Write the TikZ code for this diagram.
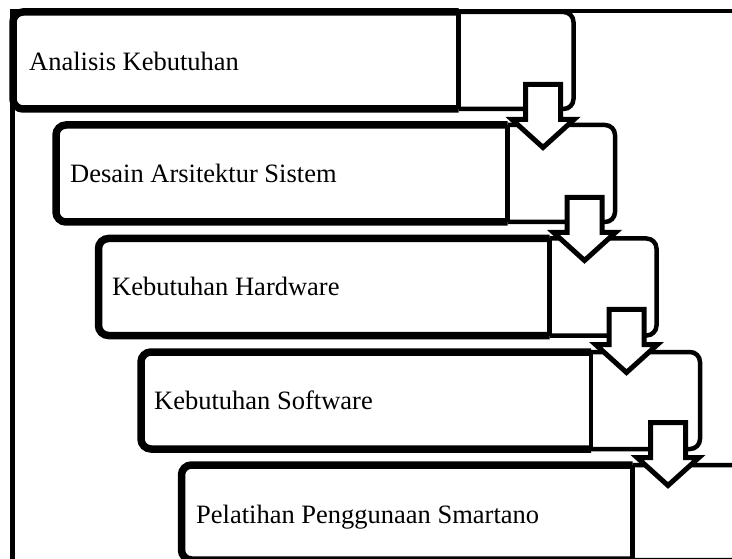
\documentclass[tikz,border=0pt]{standalone}
\usepackage{fontspec}
\setmainfont{Liberation Serif}
\begin{document}
\begin{tikzpicture}[x=1pt, y=-1pt,
  mainbox/.style={line width=7.5pt, fill=white, rounded corners=10pt},
  tabbox/.style={line width=4.5pt, fill=white, rounded corners=10pt},
  sepline/.style={line width=4.5pt},
  frameline/.style={line width=4.5pt},
  downarrow/.style={line width=5pt, fill=white, line join=miter},
  steplabel/.style={anchor=base west, inner sep=0pt, font=\fontsize{26.5}{32}\selectfont}]
\useasboundingbox (0,0) rectangle (732,559);
\clip (0,0) rectangle (732,559);
\draw[frameline] (732,11) -- (12.5,11) -- (12.5,559);
\draw[tabbox] (458.5,12) -- (573.5,12) -- (573.5,109) -- (458.5,109);
\draw[mainbox] (458.5,12) -- (13,12) -- (13,109) -- (458.5,109);
\draw[sepline] (458.5,12) -- (458.5,109);
\node[steplabel] (analisis) at (29,71) {Analisis Kebutuhan};
\draw[tabbox] (507.5,125) -- (615,125) -- (615,222) -- (507.5,222);
\draw[mainbox] (507.5,125) -- (56,125) -- (56,222) -- (507.5,222);
\draw[sepline] (507.5,125) -- (507.5,222);
\node[steplabel] (desain) at (70,183) {Desain Arsitektur Sistem};
\draw[tabbox] (549.5,238.5) -- (656.5,238.5) -- (656.5,335.5) -- (549.5,335.5);
\draw[mainbox] (549.5,238.5) -- (98.5,238.5) -- (98.5,335.5) -- (549.5,335.5);
\draw[sepline] (549.5,238.5) -- (549.5,335.5);
\node[steplabel] (hardware) at (112,295.5) {Kebutuhan Hardware};
\draw[tabbox] (591,352) -- (700,352) -- (700,449) -- (591,449);
\draw[mainbox] (591,352) -- (141,352) -- (141,449) -- (591,449);
\draw[sepline] (591,352) -- (591,449);
\node[steplabel] (software) at (154,409) {Kebutuhan Software};
\draw[tabbox] (632.5,465) -- (742,465) -- (742,560) -- (632.5,560);
\draw[mainbox] (632.5,465) -- (181.5,465) -- (181.5,560) -- (632.5,560);
\draw[sepline] (632.5,465) -- (632.5,560);
\node[steplabel] (pelatihan) at (196,523) {Pelatihan Penggunaan Smartano};
\draw[downarrow] (525.5,84.5) -- (560.5,84.5) -- (560.5,119.5) -- (574,119.5) -- (543,147.5) -- (512,119.5) -- (525.5,119.5) -- cycle;
\draw[downarrow] (567,197.5) -- (602,197.5) -- (602,232.5) -- (615.5,232.5) -- (584.5,260.5) -- (553.5,232.5) -- (567,232.5) -- cycle;
\draw[downarrow] (609,309.5) -- (644,309.5) -- (644,344.5) -- (657.5,344.5) -- (626.5,372.5) -- (595.5,344.5) -- (609,344.5) -- cycle;
\draw[downarrow] (650.5,422.5) -- (685.5,422.5) -- (685.5,457.5) -- (699,457.5) -- (668,485.5) -- (637,457.5) -- (650.5,457.5) -- cycle;
\end{tikzpicture}
\end{document}
